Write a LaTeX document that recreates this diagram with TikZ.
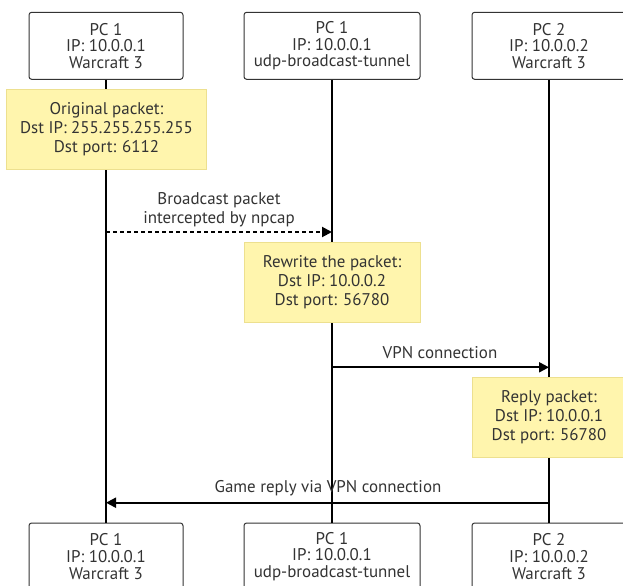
\documentclass[tikz,border=0pt]{standalone}
\usepackage{fontspec}
\setmainfont{PT Sans}
\usepackage{xcolor}
\usetikzlibrary{arrows.meta,positioning}
\definecolor{notefill}{HTML}{FFF5AD}
\definecolor{notedraw}{HTML}{EDE08F}
\definecolor{inkgrey}{HTML}{333333}

\begin{document}
\begin{tikzpicture}[
  x=0.75pt, y=-0.75pt,
  >={Triangle[length=7.5pt,width=7.5pt]},
  every node/.style={font=\fontsize{12.7}{14.4}\selectfont, text=inkgrey},
  actor/.style={draw=inkgrey, fill=white, rounded corners=2pt, line width=0.75pt,
    minimum width=115.5pt, minimum height=50.25pt, align=center, inner sep=0pt,
    font=\fontsize{12.7}{12.5}\selectfont},
  note/.style={draw=notedraw, fill=notefill, line width=0.75pt,
    minimum height=60pt, align=center, inner sep=0pt},
  life/.style={line width=1.5pt, black},
  msg/.style={->, line width=1.5pt, black},
  label/.style={align=center, inner sep=0pt},
]
\useasboundingbox (0,0) rectangle (623,585);
\clip (0,0) rectangle (623,585);

% Participants (top)
\node[actor] (pcA) at (106,45.8) {PC 1\\IP: 10.0.0.1\\Warcraft 3};
\node[actor, minimum width=132pt] (tun) at (332,45.8) {PC 1\\IP: 10.0.0.1\\udp-broadcast-tunnel};
\node[actor] (pcB) at (549,45.8) {PC 2\\IP: 10.0.0.2\\Warcraft 3};
% Participants (bottom)
\node[actor] (pcAbot) at (106,556.5) {PC 1\\IP: 10.0.0.1\\Warcraft 3};
\node[actor, minimum width=132pt] (tunbot) at (332,556.5) {PC 1\\IP: 10.0.0.1\\udp-broadcast-tunnel};
\node[actor] (pcBbot) at (549,556.5) {PC 2\\IP: 10.0.0.2\\Warcraft 3};

% Lifelines
\draw[life] (pcA) -- (pcAbot);
\draw[life] (tun) -- (tunbot);
\draw[life] (pcB) -- (pcBbot);

% Notes
\node[note, minimum width=150pt] (orig) at (106.5,129.3) {Original packet:\\Dst IP: 255.255.255.255\\Dst port: 6112};
\node[note, minimum width=132pt] (rewrite) at (332,282) {Rewrite the packet:\\Dst IP: 10.0.0.2\\Dst port: 56780};
\node[note, minimum width=115.5pt] (reply) at (549,417.3) {Reply packet:\\Dst IP: 10.0.0.1\\Dst port: 56780};

% Messages
\coordinate (bcFrom) at (pcA |- 0,232);
\coordinate (bcTo) at (tun |- 0,232);
\draw[msg, dash pattern=on 3pt off 2.25pt] (bcFrom) -- (bcTo);
\node[label] (bcLabel) at (219,210) {Broadcast packet\\intercepted by npcap};

\coordinate (vpnFrom) at (tun |- 0,367.3);
\coordinate (vpnTo) at (pcB |- 0,367.3);
\draw[msg] (vpnFrom) -- (vpnTo);
\node[label] (vpnLabel) at (440,353) {VPN connection};

\coordinate (gameFrom) at (pcB |- 0,502.7);
\coordinate (gameTo) at (pcA |- 0,502.7);
\draw[msg] (gameFrom) -- (gameTo);
\node[label] (gameLabel) at (328,488.5) {Game reply via VPN connection};
\end{tikzpicture}
\end{document}
